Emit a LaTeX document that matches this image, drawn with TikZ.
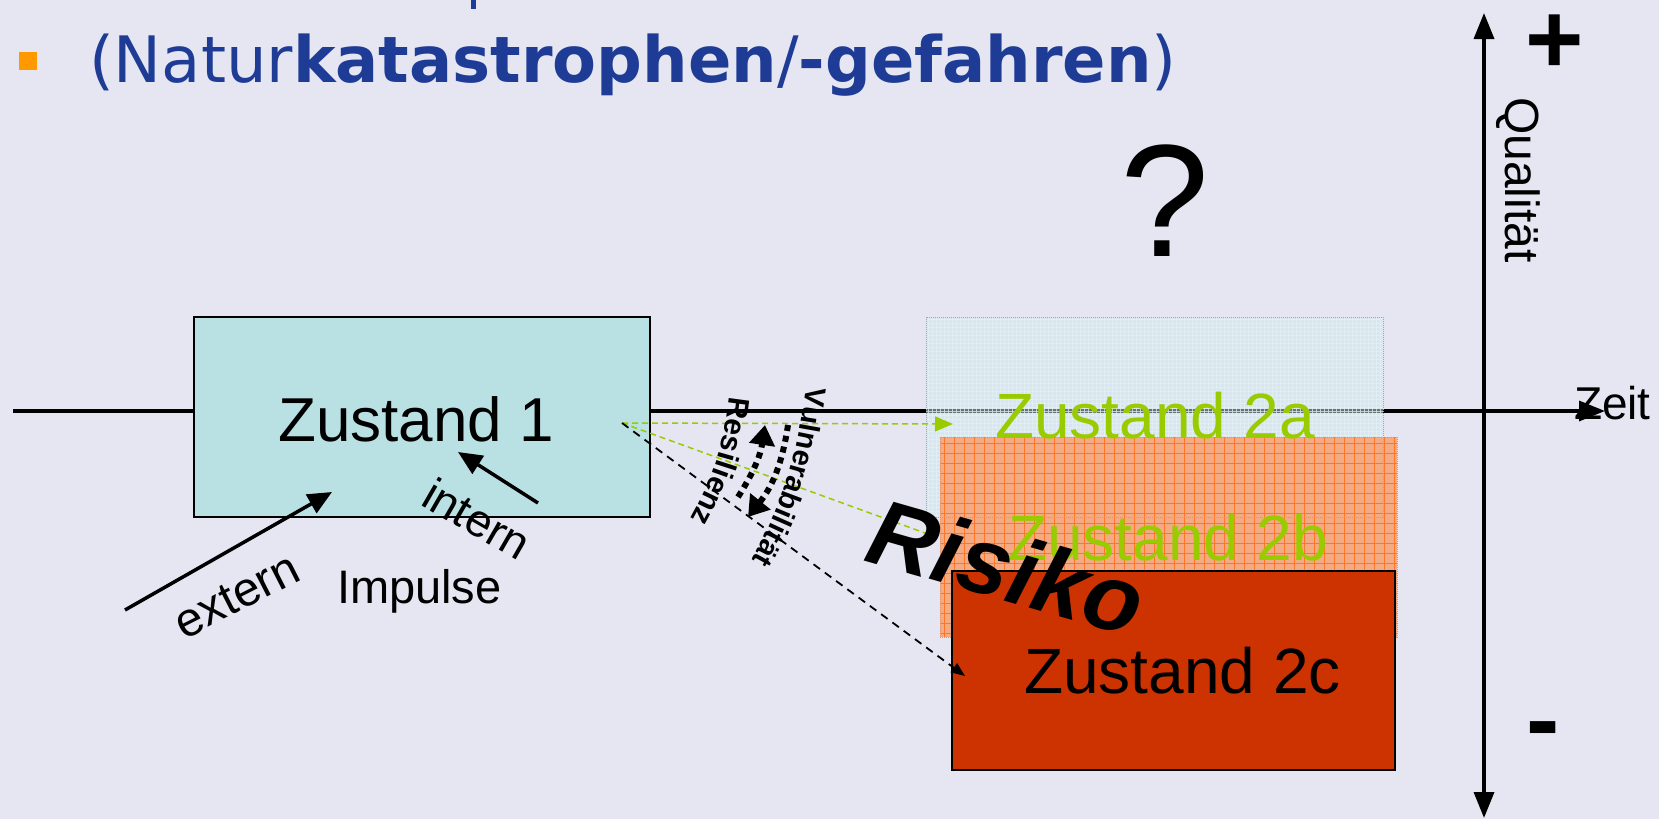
\documentclass[tikz,border=0pt]{standalone}
\usepackage{fontspec}
\setmainfont{Liberation Sans}
\newfontfamily\titlefont{DejaVu Sans}
\usetikzlibrary{arrows.meta,decorations.text}
\newcommand\fsz[1]{\fontsize{#1}{#1}\selectfont}

\definecolor{bgc}{RGB}{230,230,242}
\definecolor{boxone}{RGB}{185,224,227}
\definecolor{titleblue}{RGB}{30,60,150}
\definecolor{bulletorange}{RGB}{255,153,0}
\definecolor{lime}{RGB}{153,204,0}
\definecolor{riskred}{RGB}{204,51,0}
\definecolor{salmon}{RGB}{244,170,130}
\definecolor{gridorange}{RGB}{255,118,40}
\definecolor{paleblue}{RGB}{205,230,235}
\definecolor{gridblue}{RGB}{228,240,244}

\begin{document}
\begin{tikzpicture}[x=1pt,y=-1pt,
  lbl/.style={inner sep=0pt, outer sep=0pt},
  axis/.style={line width=3.5pt, -{Triangle[length=26pt,width=20pt]}},
  statebox/.style={draw=black, line width=2pt, inner sep=0pt, outer sep=0pt},
  ghostbox/.style={inner sep=0pt, outer sep=0pt},
  impulse/.style={line width=3.5pt, -{Triangle[length=24pt,width=21pt]}},
  greendash/.style={draw=lime, line width=1.5pt, dash pattern=on 6pt off 4pt,
    -{Triangle[length=18pt,width=15pt]}},
  blackdash/.style={draw=black, line width=1.8pt, dash pattern=on 8pt off 6pt,
    -{Triangle[length=14pt,width=11pt]}},
  dotarc/.style={line width=6pt, dash pattern=on 6pt off 5pt,
    -{Triangle[length=20pt,width=25pt]}},
]
% page
\fill[bgc] (0,0) rectangle (1659,819);
\useasboundingbox (0,0) rectangle (1659,819);

% axes: time and quality
\coordinate (tx0) at (13,411);
\coordinate (tx1) at (1605,411);
\coordinate (qy0) at (1484,818);
\coordinate (qy1) at (1484,13);
\draw[axis] (tx0) -- (tx1);
\draw[axis, {Triangle[length=26pt,width=20pt]}-{Triangle[length=26pt,width=20pt]}] (qy0) -- (qy1);

% state 1
\node[statebox, fill=boxone, minimum width=456pt, minimum height=200pt] (z1) at (422,417) {};
\node[lbl, anchor=base, font=\fsz{62}] (z1t) at (416,441) {Zustand 1};

% transition points
\coordinate (src) at (622,423);
\coordinate (t2a) at (953,424);
\coordinate (t2b) at (980,553);
\coordinate (t2c) at (965,676);

% path towards state 2b (runs under the box)
\draw[greendash] (src) -- (t2b);

% state 2a (pale, gridded)
\node[ghostbox, fill=paleblue, fill opacity=0.5, minimum width=457pt, minimum height=200pt] (b2a) at (1154.5,417) {};
\begin{scope}[shift={(b2a.north west)}]
  \foreach \i in {0,...,113} {\draw[gridblue, line width=0.6pt, opacity=0.7] (4*\i+2,0) -- ++(0,200);}
  \foreach \j in {0,...,49} {\draw[gridblue, line width=0.6pt, opacity=0.7] (0,4*\j+2) -- ++(457,0);}
\end{scope}

% state 2b (orange grid)
\node[ghostbox, fill=salmon, minimum width=457pt, minimum height=200pt] (b2b) at (1168.5,537) {};
\begin{scope}[shift={(b2b.north west)}]
  \foreach \i in {0,...,45} {\draw[gridorange, line width=1pt] (10*\i+4,0) -- ++(0,200);}
  \foreach \j in {0,...,19} {\draw[gridorange, line width=1pt] (0,10*\j+6) -- ++(457,0);}
\end{scope}
\draw[lime, line width=1pt, densely dotted] (b2b.north west) rectangle (b2b.south east);
\draw[lime, line width=1pt, densely dotted] (b2a.north west) rectangle (b2a.south east);

\node[lbl, anchor=base west, font=\fsz{64}, text=lime] (z2a) at (995,438) {Zustand 2a};
\node[lbl, anchor=base west, font=\fsz{64}, text=lime] (z2b) at (1008,560) {Zustand 2b};

% state 2c
\node[statebox, line width=2.5pt, fill=riskred, minimum width=443pt, minimum height=199pt,
      font=\fsz{64}] (z2c) at (1173.5,670.5) {\hspace*{18pt}\raisebox{-5pt}{Zustand 2c}};

% transitions
\draw[greendash] (src) -- (t2a);
\draw[blackdash] (src) -- (t2c);

% resilience and vulnerability
\coordinate (resA) at (738,497);
\coordinate (resB) at (765,425);
\coordinate (vulA) at (788,425);
\coordinate (vulB) at (748,517);
\draw[dotarc] (resA) to[bend right=12] (resB);
\draw[dotarc] (vulA) to[bend left=15] (vulB);

\coordinate (resT0) at (729,396);
\coordinate (resT1) at (684,530);
\coordinate (vulT0) at (806,386);
\coordinate (vulT1) at (740,580);
\path[decorate, decoration={text along path,
  text={|\bfseries\fsz{30}|Resilienz}}] (resT0) to[bend left=12] (resT1);
\path[decorate, decoration={text along path,
  text={|\bfseries\fsz{29}|Vulnerabilität}}] (vulT0) to[bend left=12] (vulT1);

% risk
\node[lbl, anchor=base west, rotate=-16, font=\bfseries\itshape\fsz{94}] (risk) at (862,560) {Risiko};

% impulses
\coordinate (extT) at (125,610);
\coordinate (extH) at (332,492);
\coordinate (intT) at (538,503);
\coordinate (intH) at (458,452);
\draw[impulse] (extT) -- (extH);
\draw[impulse] (intT) -- (intH);
\node[lbl, anchor=base west, rotate=27, font=\fsz{48}] (ext) at (184,640) {extern};
\node[lbl, anchor=base west, rotate=-30, font=\fsz{46}] (int) at (419,504) {intern};
\node[lbl, anchor=base west, font=\fsz{47}] (imp) at (337,603) {Impulse};

% heading
\fill[titleblue] (471,0) rectangle (476,9);
\node[lbl, fill=bulletorange, minimum size=18pt] (bul) at (28,60.5) {};
\node[lbl, anchor=base west, text=titleblue, font=\titlefont\fsz{64}] (title) at (89,82)
  {(Natur\textbf{katastrophen}/\textbf{-gefahren})};

% axis labels
\node[lbl, font=\fsz{160}] (q) at (1165,201) {?};
\node[lbl, font=\bfseries\fsz{100}] (plus) at (1555,44) {+};
\node[lbl, font=\bfseries\fsz{100}] (minus) at (1543,738) {-};
\node[lbl, anchor=base west, font=\fsz{46}] (zeit) at (1574,419) {Zeit};
\node[lbl, anchor=base west, rotate=-90, font=\fsz{48}] (qual) at (1505,97) {Qualität};
\end{tikzpicture}
\end{document}
